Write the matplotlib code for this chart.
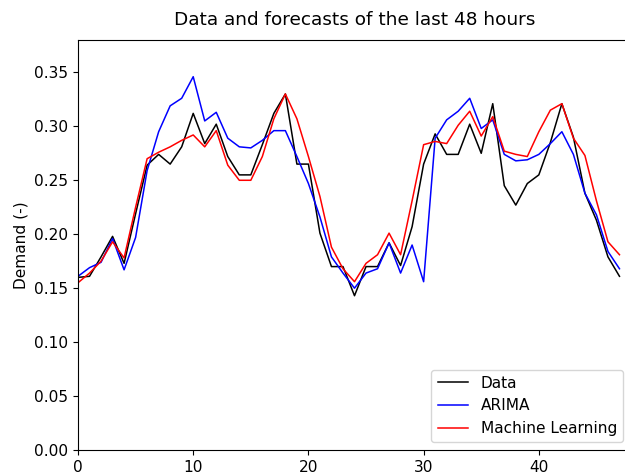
import matplotlib
matplotlib.use("Agg")
import matplotlib.pyplot as plt

# Hourly demand over the last 48 hours and the two forecasts
hours = list(range(48))

data_demand = [0.160, 0.161, 0.179, 0.198, 0.173, 0.219, 0.264, 0.274, 0.265, 0.281,
               0.312, 0.284, 0.302, 0.272, 0.255, 0.255, 0.283, 0.312, 0.330, 0.265,
               0.265, 0.201, 0.170, 0.170, 0.143, 0.170, 0.170, 0.192, 0.171, 0.207,
               0.265, 0.293, 0.274, 0.274, 0.302, 0.275, 0.321, 0.245, 0.227, 0.247,
               0.255, 0.285, 0.321, 0.290, 0.238, 0.213, 0.179, 0.161]

arima = [0.161, 0.169, 0.174, 0.196, 0.167, 0.197, 0.259, 0.295, 0.319, 0.326,
         0.346, 0.305, 0.313, 0.289, 0.281, 0.280, 0.287, 0.296, 0.296, 0.272,
         0.247, 0.216, 0.179, 0.164, 0.150, 0.164, 0.168, 0.192, 0.164, 0.190,
         0.156, 0.289, 0.306, 0.314, 0.326, 0.298, 0.306, 0.274, 0.268, 0.269,
         0.274, 0.284, 0.295, 0.274, 0.238, 0.218, 0.184, 0.168]

machine_learning = [0.155, 0.164, 0.175, 0.193, 0.178, 0.225, 0.270, 0.276, 0.281, 0.287,
                    0.292, 0.281, 0.296, 0.264, 0.250, 0.250, 0.272, 0.307, 0.330, 0.307,
                    0.272, 0.235, 0.188, 0.168, 0.156, 0.173, 0.181, 0.201, 0.181, 0.231,
                    0.283, 0.286, 0.284, 0.301, 0.314, 0.291, 0.309, 0.277, 0.274, 0.272,
                    0.295, 0.315, 0.321, 0.289, 0.273, 0.231, 0.193, 0.181]

fs = 11.1

fig = plt.figure(figsize=(6.25, 4.73), dpi=100)
ax = fig.add_axes([0.1248, 0.0486, 0.8848, 0.8668])

ax.plot(hours, data_demand, color='k', linewidth=1.1, label='Data')
ax.plot(hours, arima, color='b', linewidth=1.1, label='ARIMA')
ax.plot(hours, machine_learning, color='r', linewidth=1.1, label='Machine Learning')

ax.set_xlim(0, 48)
ax.set_ylim(0, 0.38)
ax.set_xticks([0, 10, 20, 30, 40])
ax.set_yticks([0.00, 0.05, 0.10, 0.15, 0.20, 0.25, 0.30, 0.35])
ax.set_yticklabels([f"{v:.2f}" for v in ax.get_yticks()])
ax.tick_params(labelsize=fs, length=3.9)

ax.set_title("Data and forecasts of the last 48 hours", fontsize=13.3, pad=10.5)
ax.set_ylabel("Demand (-)", fontsize=fs)
ax.legend(loc='lower right', fontsize=fs)

fig.savefig("out.png", dpi=100)
